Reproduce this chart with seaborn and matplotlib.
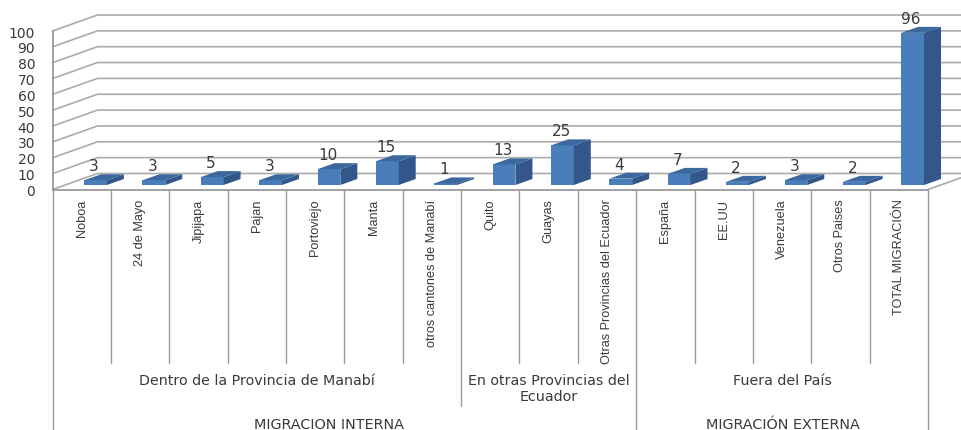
import matplotlib
matplotlib.use("Agg")
import matplotlib.pyplot as plt
from matplotlib.patches import Polygon
from matplotlib.transforms import Affine2D, blended_transform_factory
import pandas as pd
import seaborn as sns

categories = ["Noboa", "24 de Mayo", "Jipijapa", "Pajan", "Portoviejo", "Manta",
              "otros cantones de Manabí", "Quito", "Guayas",
              "Otras Provincias del Ecuador", "España", "EE.UU", "Venezuela",
              "Otros Paises", "TOTAL MIGRACIÓN"]
values = [3, 3, 5, 3, 10, 15, 1, 13, 25, 4, 7, 2, 3, 2, 96]
y_ticks = list(range(0, 101, 10))
# (label, first category, last category)
level2 = [("Dentro de la Provincia de Manabí", 0, 6),
          ("En otras Provincias del\nEcuador", 7, 9),
          ("Fuera del País", 10, 14)]
level3 = [("MIGRACION INTERNA", 329.5), ("MIGRACIÓN EXTERNA", 782.5)]

W, H = 962, 431
FRONT = "#4A7EBB"
SIDE = "#33578A"
TOP = "#3B699F"
GRID = "#ABABAB"
AXIS = "#9A9A9A"
TXT = "#3A3A3A"

sns.set_theme(style="white")
plt.rcParams["font.family"] = ["DejaVu Sans"]
fig = plt.figure(figsize=(W / 100, H / 100), dpi=100, facecolor="white")
L, R, Y0, Y100 = 52.5, 928.0, 190.5, 32.0
ax = fig.add_axes([L / W, 1 - Y0 / H, (R - L) / W, (Y0 - Y100) / H])
ax.patch.set_alpha(0)

df = pd.DataFrame({"categoria": categories, "personas": values})
sns.barplot(data=df, x="categoria", y="personas", order=categories, color=FRONT,
            saturation=1, width=0.39, ax=ax, zorder=3)
ax.set_xlim(-0.5, 14.5)
ax.set_ylim(0, 100)
ax.set_xlabel("")
ax.set_ylabel("")

ux = (R - L) / 15          # pixels per category
uy = (Y0 - Y100) / 100     # pixels per unit
wall_dx, wall_dy = 45 / ux, 16 / uy
bar_tr = ax.transData + Affine2D().translate(13.8, 4.5)
depth_x, depth_y = 17 / ux, 6 / uy

# 3D walls and floor
for v in y_ticks:
    ax.plot([-0.5, -0.5 + wall_dx, 15.5], [v, v + wall_dy, v + wall_dy],
            color=GRID, lw=1.2, clip_on=False, zorder=1)
ax.plot([14.5, 14.5 + wall_dx], [0, wall_dy], color=GRID, lw=1.2, clip_on=False, zorder=1)
ax.plot([-0.5, 14.5], [0, 0], color=AXIS, lw=1.3, clip_on=False, zorder=2)

# 3D bars
for p, v in zip(ax.patches, values):
    p.set_transform(bar_tr)
    p.set_clip_on(False)
    p.set_linewidth(0)
    x0, x1 = p.get_x(), p.get_x() + p.get_width()
    ax.add_patch(Polygon([(x1, 0), (x1 + depth_x, depth_y), (x1 + depth_x, v + depth_y), (x1, v)],
                         facecolor=SIDE, lw=0, transform=bar_tr, clip_on=False, zorder=3))
    ax.add_patch(Polygon([(x0, v), (x1, v), (x1 + depth_x, v + depth_y), (x0 + depth_x, v + depth_y)],
                         facecolor=TOP, lw=0, transform=bar_tr, clip_on=False, zorder=3))
    ax.annotate(str(v), xy=((x0 + x1) / 2, v), xycoords=bar_tr,
                xytext=(-1, 10.5), textcoords="offset points", ha="center", va="center",
                fontsize=11, color=TXT, zorder=4)

# axes
sns.despine(ax=ax, top=True, right=True, bottom=True, left=False)
ax.spines["left"].set_color(AXIS)
ax.spines["left"].set_linewidth(1.3)
ax.set_yticks(y_ticks)
ax.tick_params(axis="y", length=3.5, width=1, color=AXIS, pad=9, labelsize=10, labelcolor=TXT)
ax.set_xticks(range(len(categories)))
ax.set_xticklabels(categories, rotation=90, family="Liberation Sans", fontsize=9.2, color=TXT)
ax.tick_params(axis="x", length=0, pad=6.5, bottom=False)
for t in ax.get_xticklabels():
    t.set_va("top")
    t.set_ha("center")

# multi-level separators
sep_tr = blended_transform_factory(ax.transData, fig.transFigure)
def sep(i, bottom_px):
    ax.plot([i - 0.5, i - 0.5], [1 - Y0 / H, 1 - bottom_px / H], color=AXIS, lw=1,
            transform=sep_tr, clip_on=False, zorder=2)
for i in [1, 2, 3, 4, 5, 6, 8, 9, 11, 12, 13, 14]:
    sep(i, 364)
sep(7, 407)
sep(10, 431)
sep(15, 431)
sep(0, 431)

# group labels
for label, a, b in level2:
    fig.text(((L + (a) * ux) + (L + (b + 1) * ux)) / 2 / W, 1 - (380.7 if "\n" not in label else 389) / H,
             label, ha="center", va="center", fontsize=10.3, color=TXT, linespacing=1.15)
for label, px in level3:
    fig.text(px / W, 1 - 425 / H, label, ha="center", va="center", fontsize=10.4, color=TXT)

fig.savefig("out.png", dpi=100)
